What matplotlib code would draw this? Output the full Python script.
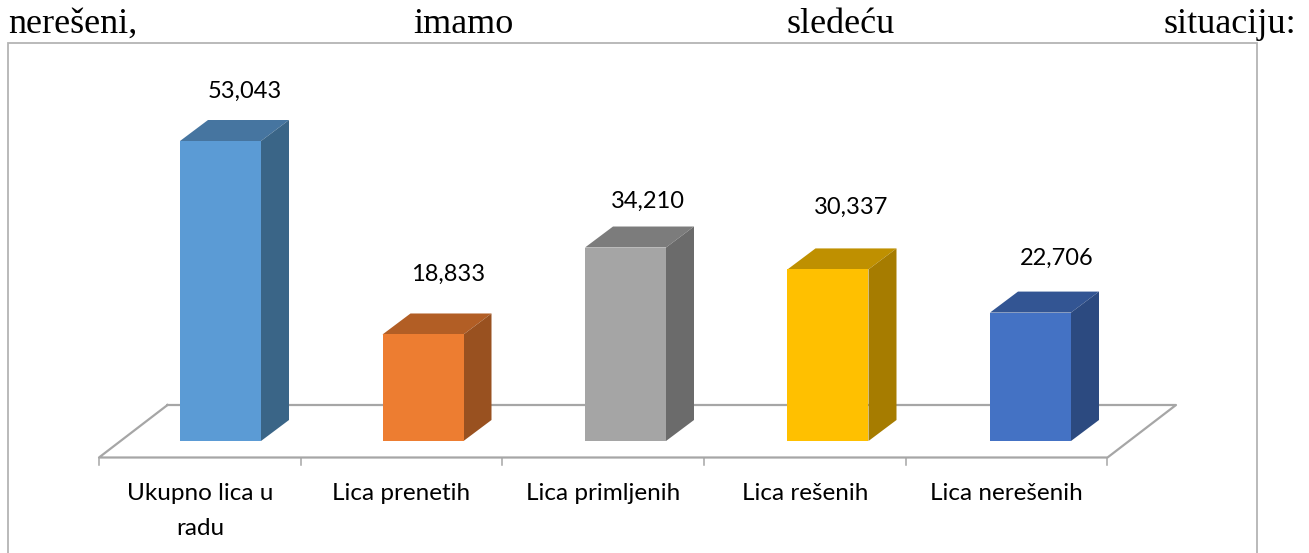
import matplotlib
matplotlib.use("Agg")
import matplotlib.pyplot as plt
from matplotlib.patches import Polygon, Rectangle

categories = ["Ukupno lica u\nradu", "Lica prenetih", "Lica primljenih", "Lica rešenih", "Lica nerešenih"]
values = [53043, 18833, 34210, 30337, 22706]
front_colors = ["#5B9BD5", "#ED7D31", "#A5A5A5", "#FFC000", "#4472C4"]
top_colors = ["#4675A0", "#B25E25", "#7C7C7C", "#BF9000", "#335593"]
side_colors = ["#3A6587", "#995120", "#6B6B6B", "#A67C00", "#2C4A80"]

W, H = 1309, 553
# pixel scale of the chart: one category = 202.5 px, 300 px = the tallest bar
px_x = 1 / 202.5
px_y = 53043 / 300

fig = plt.figure(figsize=(W / 100, H / 100), dpi=100)
ax = fig.add_axes([0, 0, 1, 1])
ax.set_xlim(-220.5 * px_x, (W - 220.5) * px_x)
ax.set_ylim(-(H - 441) * px_y, 441 * px_y)
ax.axis("off")

line_color = "#a6a6a6"
label_font = "Lato"

# chart frame, runs off the bottom of the picture
ax.add_patch(Rectangle((-212.5 * px_x, -(H + 20 - 441) * px_y), 1249 * px_x, (H + 20 - 43) * px_y,
                       fill=False, ec="#b4b4b4", lw=1.3, zorder=1))

# floor
n = len(values)
step = 201.7 * px_x
left = -121.5 * px_x
right = left + n * step
front_y = -16.5 * px_y
back_y = 36 * px_y
floor_dx = 68.5 * px_x
ax.plot([left + floor_dx, left, right, right + floor_dx, left + floor_dx],
        [back_y, front_y, front_y, back_y, back_y], color=line_color, lw=1.6, zorder=2)
for i in range(n + 1):
    ax.plot([left + i * step, left + i * step], [front_y, front_y - 7 * px_y], color=line_color, lw=1.1, zorder=2)

# bars
half = 40.5 * px_x
dx = 28 * px_x
dy = 21 * px_y
nudge_x = [24, 25, 22, 23, 26]
nudge_y = [50, 60, 46, 62, 54]
for i, v in enumerate(values):
    ax.add_patch(Rectangle((i - half, 0), 2 * half, v, fc=front_colors[i], ec="none", zorder=4))
    ax.add_patch(Polygon([(i - half, v), (i + half, v), (i + half + dx, v + dy), (i - half + dx, v + dy)],
                         fc=top_colors[i], ec="none", zorder=3))
    ax.add_patch(Polygon([(i + half, 0), (i + half + dx, dy), (i + half + dx, v + dy), (i + half, v)],
                         fc=side_colors[i], ec="none", zorder=3))
    ax.annotate(f"{v:,}", (i, v), xytext=(nudge_x[i], nudge_y[i]), textcoords="offset pixels",
                ha="center", va="center", fontsize=17, family=label_font, color="black")
    ax.text(left + (i + 0.5) * step, -42 * px_y, categories[i], ha="center", va="top", fontsize=17.5,
            family=label_font, color="black", linespacing=1.82)

# body text line above the chart
for word, xp, ha in [("nerešeni,", 8, "left"), ("imamo", 413, "left"),
                     ("sledeću", 787, "left"), ("situaciju:", 1296, "right")]:
    ax.text((xp - 220.5) * px_x, (441 - 33) * px_y, word, ha=ha, va="baseline", fontsize=26,
            family="Liberation Serif", color="black")

fig.savefig("out.png", dpi=100, facecolor="white")
